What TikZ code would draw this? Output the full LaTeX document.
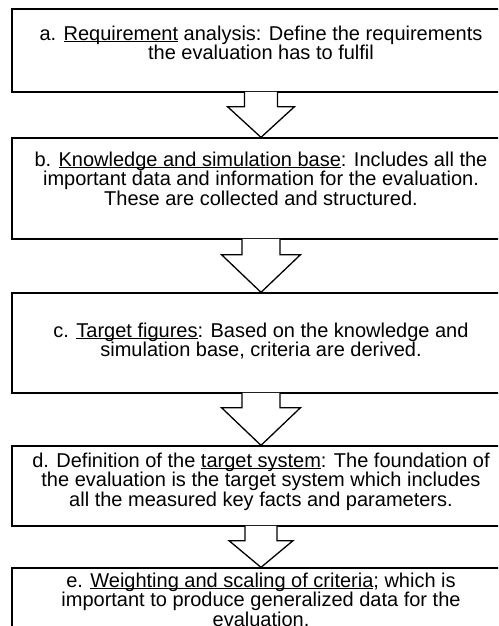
\documentclass[tikz,border=0pt]{standalone}
\usepackage{fontspec}
\setmainfont{Liberation Sans}
\usetikzlibrary{positioning,calc}

% underline close under the baseline
\newcommand{\undl}[1]{\setbox0\hbox{#1}\rlap{\rule[-2.3pt]{\wd0}{1.1pt}}\box0\relax}

% block arrow between two boxes: from, to, stem half width, head half width, stem length
\newcommand{\blockarrow}[5]{%
  \filldraw[bigarrow] ($(#1.south)+(-#3,-0.7)$) -- ($(#1.south)+(-#3,#5)$) -- ($(#1.south)+(-#4,#5)$)
    -- (#2.north) -- ($(#1.south)+(#4,#5)$) -- ($(#1.south)+(#3,#5)$) -- ($(#1.south)+(#3,-0.7)$);
}

\begin{document}
\begin{tikzpicture}[x=1pt,y=-1pt]
\tikzstyle{block} = [rectangle, minimum width=498pt, inner sep=0pt, draw=black, line width=1.3pt]
\tikzstyle{words} = [align=center, inner sep=0pt, font=\fontsize{20}{18}\selectfont]
\tikzstyle{bigarrow} = [draw=black, fill=white, line width=1.3pt, line join=miter]
%
\useasboundingbox (0,0) rectangle (498,626);
\clip (0,0) rectangle (498,626);
%
\node (req) [block, minimum height=83pt] at (261,50.5) {};
\node (base) [block, minimum height=101pt] at (261,188.5) {};
\node (figures) [block, minimum height=100pt] at (261,343) {};
\node (target) [block, minimum height=80pt] at (261,486) {};
\node (weight) [block, minimum height=92pt] at (261,614) {};
%
\node (req-text) [words, below=17pt of req.north] {a. \undl{Requirement} analysis: Define the requirements\\the evaluation has to fulfil};
\node (base-text) [words, below=14pt of base.north] {b. \undl{Knowledge and simulation base}: Includes all the\\important data and information for the evaluation.\\These are collected and structured.};
\node (figures-text) [words, below=30pt of figures.north] {c. \undl{Target figures}: Based on the knowledge and\\simulation base, criteria are derived.};
\node (target-text) [words, below=7pt of target.north] {d. Definition of the \undl{target system}: The foundation of\\the evaluation is the target system which includes\\all the measured key facts and parameters.};
\node (weight-text) [words, below=5pt of weight.north] {e. \undl{Weighting and scaling of criteria}; which is\\important to produce generalized data for the\\evaluation.};
%
\blockarrow{req}{base}{16.5}{33.5}{14}
\blockarrow{base}{figures}{19}{39.5}{15}
\blockarrow{figures}{target}{19}{39.5}{14}
\blockarrow{target}{weight}{16}{32}{14}
\end{tikzpicture}
\end{document}
